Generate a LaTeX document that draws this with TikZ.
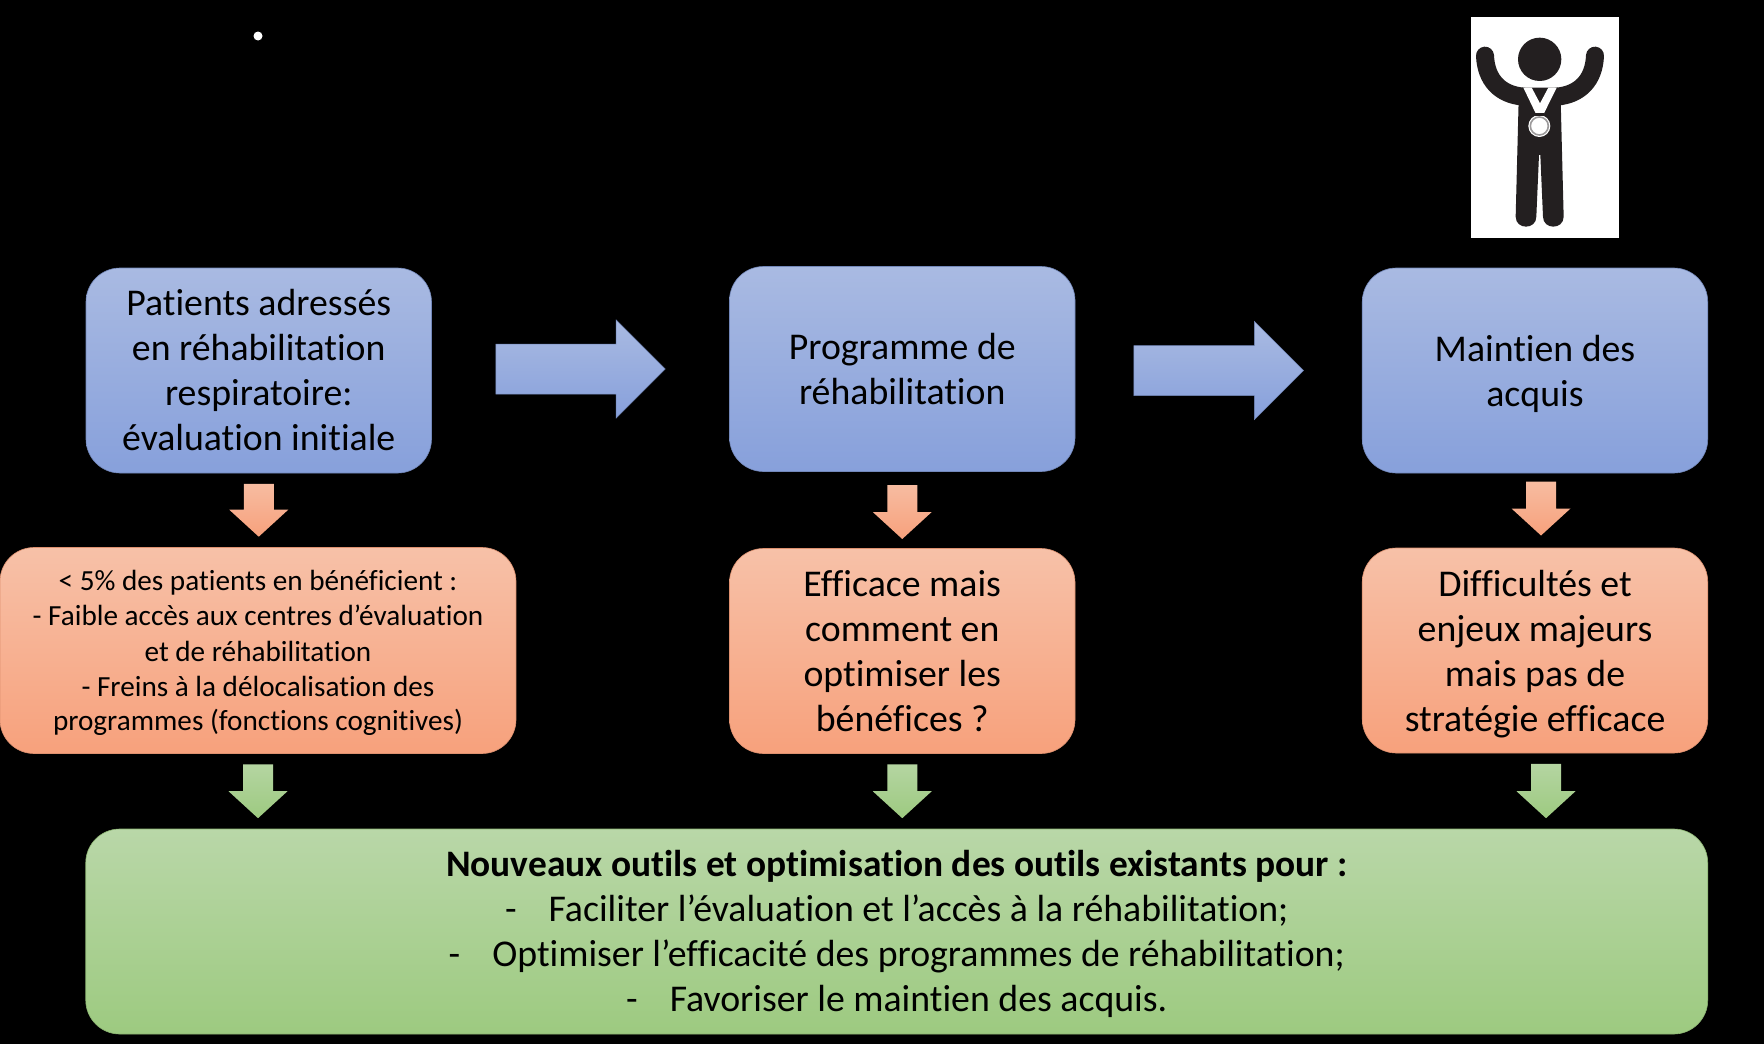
\documentclass[tikz,border=0pt]{standalone}
\usepackage{fontspec}
\setmainfont[Ligatures=NoCommon]{Carlito}
\usetikzlibrary{calc}
\definecolor{bleuH}{HTML}{A9BAE2}
\definecolor{bleuB}{HTML}{87A0DB}
\definecolor{orangeH}{HTML}{F7C1A8}
\definecolor{orangeB}{HTML}{F7A17C}
\definecolor{vertH}{HTML}{B9D7A8}
\definecolor{vertB}{HTML}{9DCA80}
\definecolor{sombre}{HTML}{231F20}
\newcommand{\grand}{\fontsize{37.8}{45}\selectfont}
\newcommand{\petit}{\fontsize{29.2}{35}\selectfont}
\newcommand{\tiret}[1]{-\hspace{32pt}#1}
\newcommand{\baisse}[1]{\rule{0pt}{#1pt}}
\tikzset{
  bloc/.style={rounded corners=34pt,inner sep=0pt,align=center,text=black,line width=.6pt,
    minimum width=345.5pt,minimum height=205pt,font=\grand},
  blocbleu/.style={bloc,draw=bleuB!85!black,top color=bleuH,bottom color=bleuB},
  blocorange/.style={bloc,draw=orangeB!90!black,top color=orangeH,bottom color=orangeB},
  blocvert/.style={bloc,draw=vertB!90!black,top color=vertH,bottom color=vertB},
  flechehoriz/.style={top color=bleuH,bottom color=bleuB,draw=bleuB!85!black,line width=.5pt,
    to path={let \p1=(\tikztostart),\p2=(\tikztotarget) in
      (\x1+#1,\y2+25pt) -- (\x2-#1-49pt,\y2+25pt) -- (\x2-#1-49pt,\y2+49pt)
      -- (\x2-#1,\y2) -- (\x2-#1-49pt,\y2-49pt) -- (\x2-#1-49pt,\y2-25pt)
      -- (\x1+#1,\y2-25pt) -- cycle}},
  flechebas/.style={to path={let \p1=(\tikztostart),\p2=(\tikztotarget) in
      (\x1-15pt,\y1-10.5pt) -- (\x1+15pt,\y1-10.5pt) -- (\x1+15pt,\y2+37.5pt) -- (\x1+29.5pt,\y2+37.5pt)
      -- (\x1,\y2+10.5pt) -- (\x1-29.5pt,\y2+37.5pt) -- (\x1-15pt,\y2+37.5pt) -- cycle}},
  flecheorange/.style={flechebas,top color=orangeH,bottom color=orangeB},
  flecheverte/.style={flechebas,top color=vertH,bottom color=vertB}
}
\begin{document}
\begin{tikzpicture}[x=1pt,y=-1pt]
  \useasboundingbox (0,0) rectangle (1764,1044);
  \fill[black] (0,0) rectangle (1764,1044);
  \node[circle,fill=white,inner sep=0pt,minimum size=9pt] (point) at (258,36) {};
  % top row
  \node[blocbleu] (patients) at (258.75,370.5) {Patients adressés\\en réhabilitation\\respiratoire:\\évaluation initiale};
  \node[blocbleu] (programme) at (902.25,369) {Programme de\\réhabilitation};
  \node[blocbleu] (maintien) at (1535,370.5) {\baisse{34}Maintien des\\acquis};
  % middle row
  \node[blocorange,minimum width=516pt,minimum height=206pt,font=\petit] (freins) at (258,650.5) {\baisse{26}< 5\% des patients en bénéficient :\\- Faible accès aux centres d’évaluation\\et de réhabilitation\\- Freins à la délocalisation des\\programmes (fonctions cognitives)};
  \node[blocorange] (efficace) at (902.25,651) {Efficace mais\\comment en\\optimiser les\\bénéfices ?};
  \node[blocorange] (difficultes) at (1535,650.5) {\baisse{34}Difficultés et\\enjeux majeurs\\mais pas de\\stratégie efficace};
  % bottom row
  \node[blocvert,minimum width=1622pt] (outils) at (896.75,931.5) {\baisse{32}\textbf{\fontsize{37.4}{45}\selectfont Nouveaux outils et optimisation des outils existants pour :}\\\tiret{Faciliter l’évaluation et l’accès à la réhabilitation;}\\\tiret{Optimiser l’efficacité des programmes de réhabilitation;}\\\tiret{Favoriser le maintien des acquis.}};
  \coordinate (departB) at (902.25,474.5);
  \coordinate (arriveeB) at (902.25,549.5);
  \coordinate (departC) at (1541,471);
  \coordinate (arriveeC) at (1541,546);
  \coordinate (colD) at (1546,0);
  \path[flechehoriz=64pt] (patients.east) to (programme.west);
  \path[flechehoriz=58.5pt] (programme.east) to (maintien.west);
  \path[flecheorange] (patients.south) to (freins.north);
  \path[flecheorange] (departB) to (arriveeB);
  \path[flecheorange] (departC) to (arriveeC);
  \path[flecheverte] (freins.south) to (outils.north -| freins.south);
  \path[flecheverte] (efficace.south) to (outils.north -| efficace.south);
  \path[flecheverte] (difficultes.south -| colD) to (outils.north -| colD);
  % medal winner
  \node[fill=white,inner sep=0pt,minimum width=148pt,minimum height=221pt] (vignette) at (1545,127.5) {};
  \begin{scope}[xshift=1440pt,x=.3333pt,y=-.3333pt]
    \fill[sombre] (299,178) circle (65);
    \draw[sombre,line width=18pt,line cap=round] (135,167) .. controls (138,240) and (180,284) .. (250,290);
    \draw[sombre,line width=18pt,line cap=round] (465,167) .. controls (462,240) and (420,284) .. (350,290);
    \fill[sombre] (245,263) -- (353,263) -- (362,300) -- (371,650) .. controls (371,690) and (309,690) .. (309,650)
      -- (301,465) -- (297,465) -- (289,650) .. controls (289,690) and (227,690) .. (227,650) -- (236,300) -- cycle;
    \fill[white] (250,263) -- (275,263) -- (300,310) -- (325,263) -- (350,263) -- (312,340) -- (287,340) -- cycle;
    \fill[white] (298,378) circle (33);
    \draw[sombre!45,line width=1.6pt] (298,378) circle (27);
    \fill[sombre] (285,340) rectangle (312,347);
  \end{scope}
\end{tikzpicture}
\end{document}
